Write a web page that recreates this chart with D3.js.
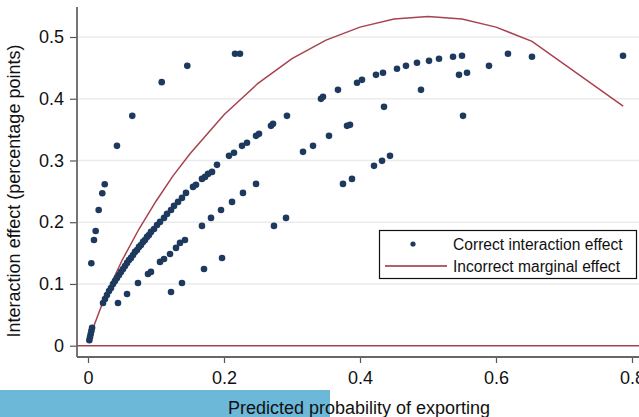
<!DOCTYPE html>
<html><head><meta charset="utf-8">
<script src="https://cdn.jsdelivr.net/npm/d3@7"></script>
<style>
html,body{margin:0;padding:0;background:#fff;}
svg{display:block;font-family:"Liberation Sans",Arial,Helvetica,sans-serif;}
</style></head>
<body>
<svg id="chart" width="639" height="417"></svg>
<script>
// ---- data ----
const xTicks = [0, 0.2, 0.4, 0.6, 0.8];
const yTicks = [0, 0.1, 0.2, 0.3, 0.4, 0.5];
const xTickLabels = ["0", "0.2", "0.4", "0.6", "0.8"];
const yTickLabels = ["0", "0.1", "0.2", "0.3", "0.4", "0.5"];

// Correct interaction effect (predicted probability, effect)
const nearZero = [[0.002,0.009],[0.003,0.014],[0.004,0.019],[0.005,0.024],[0.006,0.029]];
const mainBand = [
 [0.0221,0.0692],[0.0250,0.0757],[0.0279,0.0822],[0.0309,0.0887],[0.0338,0.0935],[0.0368,0.1000],
 [0.0397,0.1049],[0.0426,0.1097],[0.0456,0.1146],[0.0485,0.1195],[0.0515,0.1243],[0.0544,0.1292],
 [0.0574,0.1341],[0.0603,0.1389],[0.0632,0.1422],[0.0662,0.1470],[0.0691,0.1519],[0.0721,0.1551],
 [0.0750,0.1600],[0.0779,0.1632],[0.0809,0.1681],[0.0838,0.1713],[0.0868,0.1762],[0.0897,0.1794],
 [0.0926,0.1843],[0.0971,0.1891],[0.1015,0.1956],[0.1059,0.2005],[0.1118,0.2070],[0.1162,0.2135],
 [0.1221,0.2199],[0.1265,0.2264],[0.1324,0.2329],[0.1382,0.2394],[0.1441,0.2475],[0.1544,0.2572],
 [0.1588,0.2605],[0.1676,0.2702],[0.1721,0.2734],[0.1765,0.2783],[0.1824,0.2815],[0.1897,0.2929],
 [0.2074,0.3075],[0.2147,0.3124],[0.2265,0.3237],[0.2338,0.3286],[0.2471,0.3399],[0.2515,0.3431],
 [0.2691,0.3561],[0.2721,0.3593],[0.2926,0.3723],[0.3426,0.3998],[0.3456,0.4031],[0.3676,0.4144],
 [0.3956,0.4258],[0.4029,0.4306],[0.4235,0.4387],[0.4338,0.4420],[0.4544,0.4485],[0.4676,0.4533],
 [0.4838,0.4582],[0.5015,0.4614],[0.5162,0.4647],[0.5368,0.4679],[0.5500,0.4696],[0.6176,0.4728],
 [0.6529,0.4679],[0.7868,0.4696]
];
const middleBand = [
 [0.0441,0.0692],[0.0574,0.0838],[0.0735,0.1016],[0.0882,0.1162],[0.0926,0.1195],[0.1059,0.1357],
 [0.1118,0.1405],[0.1206,0.1486],[0.1294,0.1584],[0.1353,0.1665],[0.1426,0.1713],[0.1676,0.1940],
 [0.1809,0.2070],[0.1956,0.2199],[0.2118,0.2329],[0.2279,0.2475],[0.2471,0.2621],[0.3162,0.3140],
 [0.3309,0.3237],[0.3544,0.3399],[0.3809,0.3561],[0.3853,0.3577],[0.4353,0.3869],[0.4897,0.4144],
 [0.5456,0.4387],[0.5574,0.4420],[0.5897,0.4533]
];
const lowerBand = [
 [0.1221,0.0870],[0.1382,0.1016],[0.1706,0.1243],[0.1971,0.1421],[0.2735,0.1940],[0.2912,0.2070],
 [0.3750,0.2621],[0.3882,0.2702],[0.4206,0.2913],[0.4324,0.2994],[0.4441,0.3075],[0.5515,0.3723]
];
const outliers = [
 [0.0049,0.1335],[0.0088,0.1713],[0.0113,0.1859],[0.0157,0.2199],[0.0210,0.2470],[0.0246,0.2616],
 [0.0426,0.3237],[0.0651,0.3723],[0.1084,0.4269],[0.1460,0.4533],[0.2162,0.4728],[0.2235,0.4728]
];
// Incorrect marginal effect (line)
const marginal = [
 [0.002,0.009],[0.005,0.019],[0.01,0.036],[0.02,0.065],[0.03,0.091],[0.05,0.138],[0.075,0.189],
 [0.1,0.234],[0.125,0.275],[0.15,0.311],[0.2,0.374],[0.25,0.425],[0.3,0.465],[0.35,0.495],
 [0.4,0.516],[0.45,0.529],[0.5,0.533],[0.55,0.529],[0.6,0.516],[0.653,0.493],[0.787,0.388]
];
const legendLabels = ["Correct interaction effect", "Incorrect marginal effect"];
const xTitle = "Predicted probability of exporting";
const yTitle = "Interaction effect (percentage points)";

// ---- drawing ----
const dotColor = "#1d3a5e";
const lineColor = "#a8424e";
const svg = d3.select("#chart");

const x = d3.scaleLinear().domain([0, 0.8]).range([88, 632]);
const y = d3.scaleLinear().domain([0, 0.5]).range([345.7, 37]);
const frame = {left: 77, right: 639, top: 7, bottom: 357};

// blue band at bottom-left
svg.append("rect").attr("x", 0).attr("y", 390).attr("width", 330).attr("height", 27)
  .attr("fill", "#6cb8d9");

// gridlines
svg.append("g").selectAll("line").data(yTicks.filter(d => d > 0)).join("line")
  .attr("x1", frame.left).attr("x2", frame.right)
  .attr("y1", d => y(d)).attr("y2", d => y(d))
  .attr("stroke", "#ebebeb").attr("stroke-width", 1.5);

// zero reference line
svg.append("line").attr("x1", frame.left).attr("x2", frame.right)
  .attr("y1", y(0)).attr("y2", y(0))
  .attr("stroke", lineColor).attr("stroke-width", 1.6);

// axes
const yAxis = d3.axisLeft(y).tickValues(yTicks).tickFormat((d, i) => yTickLabels[i]).tickSize(7).tickPadding(6);
const gy = svg.append("g").attr("transform", `translate(${frame.left},0)`).call(yAxis);
gy.select(".domain").remove();
gy.selectAll(".tick line").attr("stroke", "#555").attr("stroke-width", 1.2);
gy.selectAll(".tick text").attr("font-size", 18).attr("fill", "#111")
  .attr("font-family", "Liberation Sans, Arial, sans-serif");

const xAxis = d3.axisBottom(x).tickValues(xTicks).tickFormat((d, i) => xTickLabels[i]).tickSize(6).tickPadding(8);
const gx = svg.append("g").attr("transform", `translate(0,${frame.bottom})`).call(xAxis);
gx.select(".domain").remove();
gx.selectAll(".tick line").attr("stroke", "#555").attr("stroke-width", 1.2);
gx.selectAll(".tick text").attr("font-size", 18).attr("fill", "#111")
  .attr("font-family", "Liberation Sans, Arial, sans-serif");

// axis lines
svg.append("line").attr("x1", frame.left).attr("x2", frame.left).attr("y1", frame.top).attr("y2", frame.bottom)
  .attr("stroke", "#666").attr("stroke-width", 1.8);
svg.append("line").attr("x1", frame.left).attr("x2", frame.right).attr("y1", frame.bottom).attr("y2", frame.bottom)
  .attr("stroke", "#666").attr("stroke-width", 1.8);

// marginal effect line
svg.append("path").datum(marginal)
  .attr("d", d3.line().x(d => x(d[0])).y(d => y(d[1])))
  .attr("fill", "none").attr("stroke", lineColor).attr("stroke-width", 1.5);

// dots
const allDots = [].concat(nearZero, mainBand, middleBand, lowerBand, outliers);
svg.append("g").selectAll("circle").data(allDots).join("circle")
  .attr("cx", d => x(d[0])).attr("cy", d => y(d[1])).attr("r", 3.3)
  .attr("fill", dotColor);

// legend
const lg = svg.append("g");
lg.append("rect").attr("x", 379.5).attr("y", 230.5).attr("width", 257).attr("height", 48)
  .attr("fill", "#fff").attr("stroke", "#111").attr("stroke-width", 1.2);
lg.append("circle").attr("cx", 413).attr("cy", 244).attr("r", 2.6).attr("fill", dotColor);
lg.append("line").attr("x1", 385).attr("x2", 447).attr("y1", 266).attr("y2", 266)
  .attr("stroke", "#b0616c").attr("stroke-width", 2);
lg.selectAll("text").data(legendLabels).join("text")
  .attr("x", 453).attr("y", (d, i) => 249.5 + i * 22)
  .attr("font-size", 15.6).attr("fill", "#111").text(d => d);

// titles
svg.append("text").attr("x", 359).attr("y", 414).attr("text-anchor", "middle")
  .attr("font-size", 18).attr("fill", "#111").text(xTitle);
svg.append("text").attr("transform", "translate(19.5,191) rotate(-90)").attr("text-anchor", "middle")
  .attr("font-size", 18).attr("fill", "#111").text(yTitle);
</script>
</body></html>
